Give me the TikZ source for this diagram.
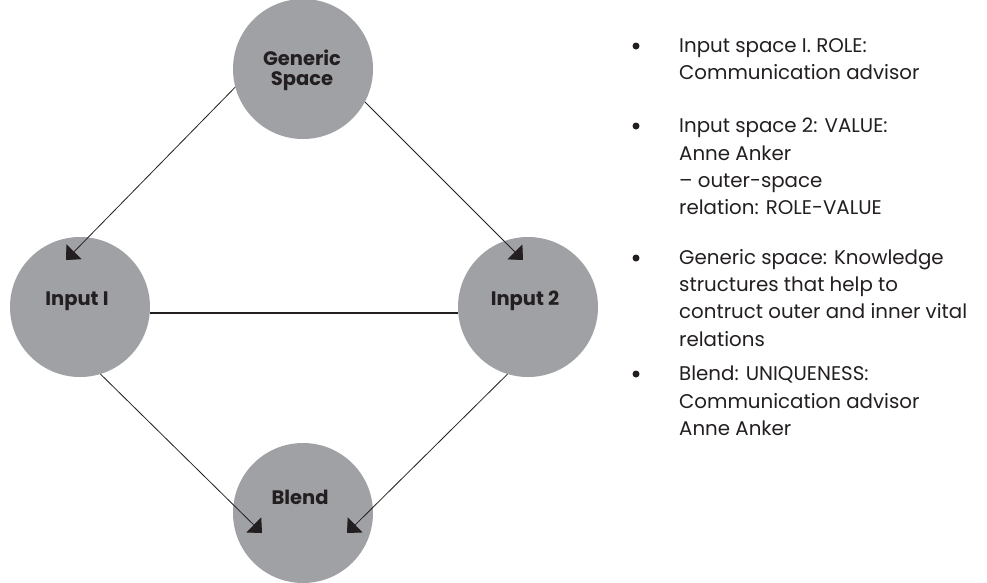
\documentclass[tikz,border=0pt]{standalone}
\usepackage{fontspec}
\setmainfont{Poppins}
\usetikzlibrary{arrows.meta}
\definecolor{discgrey}{RGB}{160,161,165}
\definecolor{ink}{RGB}{35,31,32}
\begin{document}
\begin{tikzpicture}[x=1pt,y=-1pt,
  disc/.style={circle,fill=discgrey,draw=none,minimum size=140pt,inner sep=0pt},
  lbl/.style={font=\fontsize{19.5}{20}\selectfont\bfseries,text=ink,align=center,inner sep=0pt},
  conn/.style={draw=ink,line width=0.8pt,-{Triangle[width=21pt,length=11.5pt]}},
  link/.style={draw=ink,line width=1.6pt},
  desc/.style={font=\fontsize{19.8}{27.3}\selectfont,text=ink,align=left,anchor=north west,inner sep=0pt},
  dot/.style={circle,fill=ink,minimum size=7pt,inner sep=0pt}]
\useasboundingbox (0,0) rectangle (987,582);
\fill[white] (0,0) rectangle (987,582);
% discs
\node[disc] (gen) at (303,69) {};
\node[disc] (in1) at (80,307) {};
\node[disc] (in2) at (528,307) {};
\node[disc] (bl) at (303,513) {};
% labels
\node[lbl] (genl) at (302,70) {Generic\\Space};
\node[lbl] (in1l) at (77,301) {Input I};
\node[lbl] (in2l) at (525,301) {Input 2};
\node[lbl] (bll) at (300,497) {Blend};
% tips
\coordinate (t1) at (66,260);
\coordinate (t2) at (523,260);
\coordinate (t3) at (262,533);
\coordinate (t4) at (347,533);
% connectors
\draw[link] (in1.-5.7) -- (in2.185.7);
\draw[conn] (gen.195.8) -- (t1);
\draw[conn] (gen.-28) -- (t2);
\draw[conn] (in1.-73) -- (t3);
\draw[conn] (in2.-107.6) -- (t4);
% bullets
\node[dot] (b1) at (636,46) {};
\node[dot] (b2) at (636,126) {};
\node[dot] (b3) at (636,258) {};
\node[dot] (b4) at (636,374) {};
% descriptions
\node[desc] (d1) at (679,38) {Input space I. ROLE:\\Communication advisor};
\node[desc] (d2) at (679,118) {Input space 2: VALUE:\\Anne Anker\\– outer-space\\relation: ROLE-VALUE};
\node[desc] (d3) at (679,249) {Generic space: Knowledge\\structures that help to\\contruct outer and inner vital\\relations};
\node[desc] (d4) at (679,366) {Blend: UNIQUENESS:\\Communication advisor\\Anne Anker};
\end{tikzpicture}
\end{document}
